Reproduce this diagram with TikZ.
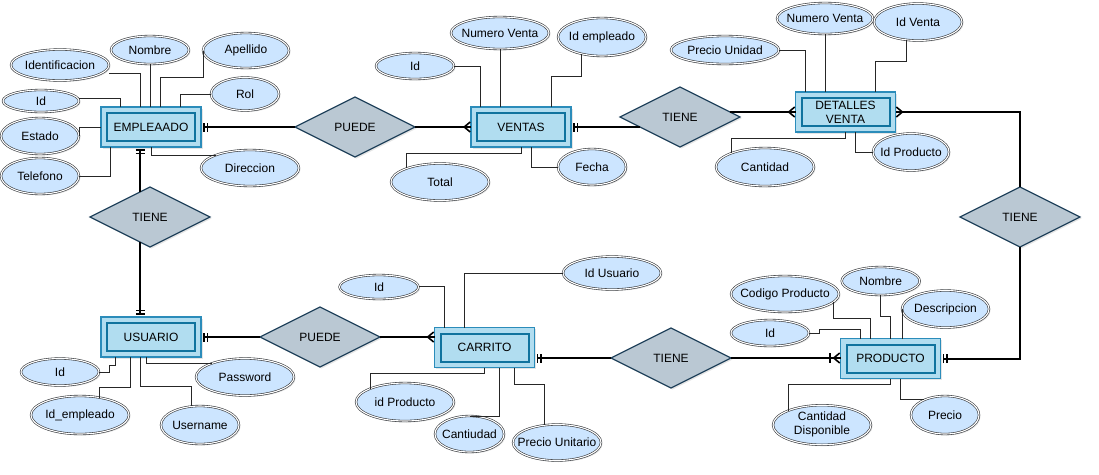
\documentclass[tikz,border=0pt]{standalone}
\usepackage{fontspec}
\setmainfont{Liberation Sans}
\usetikzlibrary{shapes.geometric,arrows.meta,shadows}
\definecolor{ellf}{HTML}{CCE5FF}
\definecolor{elld}{HTML}{36393D}
\definecolor{entf}{HTML}{B1DDF0}
\definecolor{entd}{HTML}{10739E}
\definecolor{entb}{HTML}{2B8CBA}
\definecolor{relf}{HTML}{BAC8D3}
\definecolor{reld}{HTML}{23445D}
\pgfdeclarelayer{bg}\pgfsetlayers{bg,main}
\newcommand{\zb}[1]{\makebox[0pt]{#1}}
\newcommand{\zbb}[2]{\makebox[0pt]{\begin{tabular}{@{}c@{}}#1\\#2\end{tabular}}}
\tikzset{
  attr/.style={ellipse, draw=elld, line width=0.6pt, double=white, double distance=1.1pt,
    fill=ellf, inner sep=0pt, outer sep=0pt, align=center,
    drop shadow={shadow xshift=1.5pt,shadow yshift=-1.5pt,opacity=0.2}},
  entity/.style={rectangle, draw=entb, line width=1.2pt, fill=entf, minimum width=100pt,
    minimum height=40pt, inner sep=0pt, outer sep=0pt, align=center,
    drop shadow={shadow xshift=1.5pt,shadow yshift=-1.5pt,opacity=0.2},
    path picture={\draw[line width=2pt,draw=entd]
      ([shift={(6pt,-6pt)}]path picture bounding box.north west) rectangle
      ([shift={(-6pt,6pt)}]path picture bounding box.south east);}},
  relat/.style={diamond, draw=reld, line width=1.3pt, fill=relf, minimum width=120pt,
    minimum height=60pt, inner sep=0pt, outer sep=0pt,
    drop shadow={shadow xshift=1.5pt,shadow yshift=-1.5pt,opacity=0.2}},
  rel/.style={draw=black, line width=2pt},
  att/.style={draw=black!85, line width=0.9pt},
  me/.style={-{Bar[width=9pt,line width=1.6pt,sep=2.2pt]Bar[width=9pt,line width=1.6pt]}, shorten >=2pt},
  ce/.style={-{Straight Barb[reversed,length=6pt,width=10pt,line width=1.6pt]},
    postaction={draw,arrows=-}},
  oce/.style={-{Bar[width=10pt,line width=1.6pt,sep=1.5pt]Straight Barb[reversed,length=6pt,width=10pt,line width=1.6pt]},
    postaction={draw,arrows=-}},
}
\begin{document}
\begin{tikzpicture}[x=1pt,y=-1pt,font=\fontsize{12}{14}\selectfont]
\begin{pgfonlayer}{bg}
\fill[white] (0,0) rectangle (1099,474);
\end{pgfonlayer}
\useasboundingbox (0,0) rectangle (1099,474);

% entities
\node[entity] (EMP) at (151,127) {EMPLEAADO};
\node[entity] (VEN) at (521,127) {VENTAS};
\node[entity] (DET) at (845.5,112) {DETALLES\\VENTA};
\node[entity] (USU) at (151,337) {USUARIO};
\node[entity] (CAR) at (484.5,347.5) {CARRITO};
\node[entity] (PRO) at (890.5,358.5) {PRODUCTO};

% relationships
\node[relat] (P1) at (355,127) {PUEDE};
\node[relat] (T1) at (680,117) {TIENE};
\node[relat] (T2) at (150,217) {TIENE};
\node[relat] (T3) at (1020,217) {TIENE};
\node[relat] (P2) at (320,337) {PUEDE};
\node[relat] (T4) at (671,358) {TIENE};

% attributes EMPLEAADO
\node[attr,minimum width=98pt,minimum height=31pt] (aIdent) at (60,65) {\zb{Identificacion}};
\node[attr,minimum width=78pt,minimum height=28pt] (aNom) at (150,50) {\zb{Nombre}};
\node[attr,minimum width=86pt,minimum height=35pt] (aApe) at (246,50.5) {\zb{Apellido}};
\node[attr,minimum width=68pt,minimum height=33pt] (aRol) at (245,94) {\zb{Rol}};
\node[attr,minimum width=76pt,minimum height=22pt] (aId) at (41,101) {\zb{Id}};
\node[attr,minimum width=78pt,minimum height=36pt] (aEst) at (40,136) {\zb{Estado}};
\node[attr,minimum width=78pt,minimum height=36pt] (aTel) at (40,176) {\zb{Telefono}};
\node[attr,minimum width=98pt,minimum height=36pt] (aDir) at (250,168) {\zb{Direccion}};

% attributes VENTAS
\node[attr,minimum width=78pt,minimum height=26pt] (vId) at (415,66) {\zb{Id}};
\node[attr,minimum width=98pt,minimum height=32pt] (vNum) at (500,33) {\zb{Numero Venta}};
\node[attr,minimum width=88pt,minimum height=38pt] (vIde) at (602,37) {\zb{Id empleado}};
\node[attr,minimum width=98pt,minimum height=37pt] (vTot) at (440,182) {\zb{Total}};
\node[attr,minimum width=68pt,minimum height=36pt] (vFec) at (592,167) {\zb{Fecha}};

% attributes DETALLES VENTA
\node[attr,minimum width=108pt,minimum height=28pt] (dPU) at (725,50) {\zb{Precio Unidad}};
\node[attr,minimum width=96pt,minimum height=31pt] (dNV) at (825,18.5) {\zb{Numero Venta}};
\node[attr,minimum width=88pt,minimum height=37pt] (dIV) at (918,22) {\zb{Id Venta}};
\node[attr,minimum width=98pt,minimum height=38pt] (dCan) at (765,167) {\zb{Cantidad}};
\node[attr,minimum width=76pt,minimum height=37pt] (dIP) at (911,152) {\zb{Id Producto}};

% attributes USUARIO
\node[attr,minimum width=78pt,minimum height=27pt] (uId) at (60,372) {\zb{Id}};
\node[attr,minimum width=98pt,minimum height=38pt] (uIdE) at (80,415) {\zb{Id\_empleado}};
\node[attr,minimum width=78pt,minimum height=38pt] (uUser) at (200,425) {\zb{Username}};
\node[attr,minimum width=98pt,minimum height=37pt] (uPass) at (245,377) {\zb{Password}};

% attributes CARRITO
\node[attr,minimum width=79pt,minimum height=24pt] (cId) at (379,287) {\zb{Id}};
\node[attr,minimum width=98pt,minimum height=33pt] (cIU) at (612,273) {\zb{Id Usuario}};
\node[attr,minimum width=98pt,minimum height=38pt] (cIP) at (405,402) {\zb{id Producto}};
\node[attr,minimum width=69pt,minimum height=36pt] (cCan) at (469.5,434) {\zb{Cantiudad}};
\node[attr,minimum width=88pt,minimum height=36pt] (cPU) at (557,442.5) {\zb{Precio Unitario}};

% attributes PRODUCTO
\node[attr,minimum width=108pt,minimum height=36pt] (pCP) at (785,294) {\zb{Codigo Producto}};
\node[attr,minimum width=78pt,minimum height=28pt] (pNom) at (880.7,281) {\zb{Nombre}};
\node[attr,minimum width=87pt,minimum height=37pt] (pDes) at (945.5,309) {\zb{Descripcion}};
\node[attr,minimum width=78pt,minimum height=26pt] (pId) at (770,333) {\zb{Id}};
\node[attr,minimum width=98pt,minimum height=38pt] (pCD) at (822,425) {\zbb{Cantidad}{Disponible}};
\node[attr,minimum width=68pt,minimum height=38pt] (pPre) at (945,415) {\zb{Precio}};

% relationship connectors
\coordinate (e2) at ([xshift=-11pt]EMP.south);
\coordinate (u2) at ([xshift=-11pt]USU.north);
\draw[rel,me] (VEN.east -| T1.194) -- (VEN.east);
\draw[rel,ce] (DET.west -| T1.6) -- (DET.west);
\draw[rel,me] (T2.112 -| e2) -- (e2);
\draw[rel,me] (T2.-112 -| u2) -- (u2);
\draw[rel,me] (P1.west) -- (P1.west -| EMP.east);
\draw[rel,ce] (P1.east) -- (P1.east -| VEN.west);
\draw[rel,ce] (T3.north) |- (DET.east);
\draw[rel,me] (T3.south) |- (PRO.east);
\draw[rel,me] (P2.west) -- (P2.west -| USU.east);
\draw[rel,ce] (P2.east) -- (P2.east -| CAR.west);
\draw[rel,me] (T4.west) -- (T4.west -| CAR.east);
\draw[rel,oce] (T4.east) -- (T4.east -| PRO.west);

% attribute connectors EMPLEAADO
\draw[att] ([yshift=-8pt]aIdent.east) -| ([xshift=-11pt]EMP.north);
\draw[att] (aNom.south) -- (aNom.south |- EMP.north);
\draw[att] (aApe.west) -- ++(0,26.5) -| ([xshift=9pt]EMP.north);
\draw[att] (aRol.west) -| ([xshift=29pt]EMP.north);
\draw[att] ([yshift=3pt]aId.east) -| ([xshift=-31pt]EMP.north);
\draw[att] (aEst.east) |- (EMP.west);
\draw[att] (aTel.east) -| ([xshift=-41pt]EMP.south);
\draw[att] (EMP.south) |- (aDir.159);

% attribute connectors VENTAS
\draw[att] (vId.east) -| ([xshift=-41pt]VEN.north);
\draw[att] (vNum.south) -- (vNum.south |- VEN.north);
\draw[att] (vIde.220) -- ++(0,23) -| ([xshift=30pt]VEN.north);
\draw[att] (VEN.south) -- ++(0,6) -| (vTot.158);
\draw[att] ([xshift=10pt]VEN.south) |- (vFec.west);

% attribute connectors DETALLES VENTA
\draw[att] (dPU.east) -| ([xshift=-40pt]DET.north);
\draw[att] (dNV.south) -- (dNV.south |- DET.north);
\draw[att] (dIV.237) -- ++(0,21.5) -| ([xshift=30pt]DET.north);
\draw[att] (DET.south) -- ++(0,6) -| (dCan.158);
\draw[att] ([xshift=10pt]DET.south) |- (dIP.west);

% attribute connectors USUARIO
\draw[att] (uId.east) -| ++(10,-7) -| ([xshift=-36pt]USU.south);
\draw[att] (uIdE.42) -- ++(0,-10.5) -| ([xshift=-21pt]USU.south);
\draw[att] ([xshift=-11pt]USU.south) -- ++(0,29.5) -| (uUser.115);
\draw[att] ([xshift=-5pt]USU.south) |- (uPass.158);

% attribute connectors CARRITO
\draw[att] ([yshift=1pt]cId.east) -| ([xshift=-40pt]CAR.north);
\draw[att] (cIU.west) -| ([xshift=-20pt]CAR.north);
\draw[att] (CAR.south) -- ++(0,5.5) -| (cIP.159);
\draw[att] ([xshift=15pt]CAR.south) |- (cCan.north);
\draw[att] ([xshift=30pt]CAR.south) -- ++(0,17) -| (cPU.125);

% attribute connectors PRODUCTO
\draw[att] (pCP.-9) -- ++(0,17) -| ([xshift=-20pt]PRO.north);
\draw[att] (pNom.south) -- ++(0,21) -| (PRO.north);
\draw[att] (pDes.west) -- (pDes.west |- PRO.north);
\draw[att] (pId.east) -| ++(10,-4) -| ([xshift=-30pt]PRO.north);
\draw[att] (PRO.south) -- ++(0,6) -| (pCD.157);
\draw[att] ([xshift=10pt]PRO.south) |- (pPre.144);
\end{tikzpicture}
\end{document}
